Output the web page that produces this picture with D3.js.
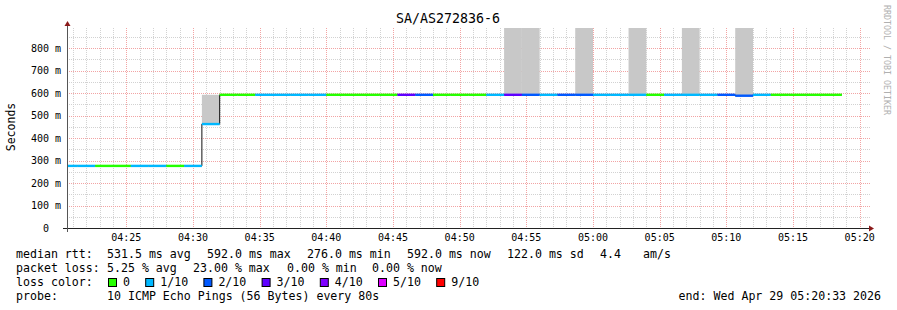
<!DOCTYPE html>
<html><head><meta charset="utf-8">
<script src="https://cdnjs.cloudflare.com/ajax/libs/d3/7.8.5/d3.min.js"></script>
<style>
html,body{margin:0;padding:0;background:#fff;}
svg text{font-family:"DejaVu Sans Mono",monospace;white-space:pre;}
</style></head><body>
<svg id="chart" width="897" height="310"></svg>
<script>
// ---------- data ----------
const title = "SA/AS272836-6";
const yAxisTitle = "Seconds";
const watermark = "RRDTOOL / TOBI OETIKER";
const timeStart = "2026-04-29T04:20:33Z";
const timeEnd = "2026-04-29T05:20:33Z";
const probeStart = "2026-04-29T04:20:00Z";
const probeStepSec = 80;
// median rtt (ms) per 80 s probe round
const medianMs = [276,276,276,276,276,276,276,276,462,592,
                  592,592,592,592,592,592,592,592,592,592,
                  592,592,592,592,592,592,592,592,592,592,
                  592,592,592,592,592,592,592,592,588,592,
                  592,592,592,592];
// lost pings (out of 10) per round
const lossCount = [1,1,0,0,1,1,0,1,1,0,
                   0,1,1,1,1,0,0,0,0,3,
                   2,0,0,0,1,3,2,1,2,2,
                   1,1,1,0,1,1,1,2,2,1,
                   0,0,0,0];
// smoke (ping spread) low/high in ms per round
const smokeLoMs = [276,276,276,276,276,276,276,276,462,592,
                   592,592,592,592,592,592,592,592,592,592,
                   592,592,592,592,592,592,592,592,592,592,
                   592,592,592,592,592,592,592,592,588,592,
                   592,592,592,592];
const smokeHiMs = [276,276,276,276,276,276,276,276,592,592,
                   592,592,592,592,592,592,592,592,592,592,
                   592,592,592,592,592,1000,1000,592,592,1000,
                   592,592,1000,592,592,1000,592,592,1000,592,
                   592,592,592,592];
const lossLevels = [0,1,2,3,4,5,9];
const lossLabels = ["0","1/10","2/10","3/10","4/10","5/10","9/10"];
const lossColors = ["#26ff00","#00b8ff","#0059ff","#5e00ff","#7e00ff","#dd00ff","#ff0000"];
const yTickValues = [0,100,200,300,400,500,600,700,800];
const yTickLabels = ["0  ","100 m","200 m","300 m","400 m","500 m","600 m","700 m","800 m"];
const yMaxMs = 888.9;
const statsRows = [
  ["median rtt:","531.5 ms avg","592.0 ms max","276.0 ms min","592.0 ms now","122.0 ms sd","4.4","am/s"],
  ["packet loss:","5.25 % avg","23.00 % max","0.00 % min","0.00 % now"]
];
const probeText = ["probe:","10 ICMP Echo Pings (56 Bytes) every 80s"];
const endText = "end: Wed Apr 29 05:20:33 2026";

// ---------- layout ----------
const L = 67, R = 867, T = 28, B = 228;
const svg = d3.select("#chart");
const x = d3.scaleUtc().domain([new Date(timeStart), new Date(timeEnd)]).range([L, R]);
const y = d3.scaleLinear().domain([0, yMaxMs]).range([B, T]);
const colorOf = d3.scaleOrdinal().domain(lossLevels).range(lossColors);

const p0 = new Date(probeStart).getTime();
const rounds = medianMs.map((m, i) => ({
  t0: new Date(p0 + i * probeStepSec * 1000),
  t1: new Date(p0 + (i + 1) * probeStepSec * 1000),
  m, loss: lossCount[i], lo: smokeLoMs[i], hi: smokeHiMs[i]
}));
const cx = t => Math.max(L, Math.min(R, x(t)));
const cy = v => Math.max(T, Math.min(B, y(v)));

// grid
const g = svg.append("g");
const minutes = d3.utcMinute.range(x.domain()[0], x.domain()[1]);
minutes.forEach(t => {
  const major = t.getUTCMinutes() % 5 === 0;
  g.append("line").attr("x1", Math.round(x(t)) + 0.5).attr("x2", Math.round(x(t)) + 0.5)
    .attr("y1", T).attr("y2", B)
    .attr("stroke", major ? "#f2a4a4" : "#d2d2d2").attr("stroke-dasharray", "1,1");
});
d3.range(50, yMaxMs, 50).forEach(v => {
  const major = v % 100 === 0;
  g.append("line").attr("x1", L).attr("x2", R + 3)
    .attr("y1", Math.round(y(v)) + 0.5).attr("y2", Math.round(y(v)) + 0.5)
    .attr("stroke", major ? "#f2a4a4" : "#d2d2d2").attr("stroke-dasharray", "1,1");
});

// smoke
svg.append("g").selectAll("rect").data(rounds.filter(d => d.hi > d.lo)).join("rect")
  .attr("x", d => cx(d.t0)).attr("width", d => cx(d.t1) - cx(d.t0))
  .attr("y", d => cy(d.hi)).attr("height", d => cy(d.lo) - cy(d.hi))
  .attr("fill", "#c8c8c8");

// black step line of medians
const stepLine = d3.line().curve(d3.curveStepAfter).x(d => d[0]).y(d => d[1]);
const stepPts = rounds.map(d => [cx(d.t0), y(d.m)]);
stepPts.push([cx(rounds[rounds.length - 1].t1), y(rounds[rounds.length - 1].m)]);
svg.append("path").attr("d", stepLine(stepPts)).attr("fill", "none")
  .attr("stroke", "#111").attr("stroke-width", 1);

// colored median segments
const seg = d3.line().x(d => d[0]).y(d => d[1]);
svg.append("g").selectAll("path").data(rounds).join("path")
  .attr("d", d => seg([[cx(d.t0), y(d.m)], [cx(d.t1), y(d.m)]]))
  .attr("stroke", d => colorOf(d.loss)).attr("stroke-width", 2.4).attr("fill", "none");

// axes
svg.append("line").attr("x1", 63).attr("x2", 869).attr("y1", B + 0.5).attr("y2", B + 0.5)
  .attr("stroke", "#222");
svg.append("line").attr("x1", L + 0.5).attr("x2", L + 0.5).attr("y1", 232).attr("y2", 24)
  .attr("stroke", "#555");
svg.append("path").attr("d", `M869,${B - 2.5} L874,${B + 0.5} L869,${B + 3.5} Z`).attr("fill", "#8b1a1a");
svg.append("path").attr("d", `M${L - 2.5},26 L${L + 0.5},21 L${L + 3.5},26 Z`).attr("fill", "#8b1a1a");

// y tick labels
svg.append("g").selectAll("text").data(yTickValues).join("text")
  .attr("x", 61).attr("y", v => y(v) + 3.5).attr("text-anchor", "end")
  .attr("font-size", 10).attr("fill", "#000").text((v, i) => yTickLabels[i]);

// x tick labels
const xTicks = d3.utcMinute.every(5).range(x.domain()[0], x.domain()[1]);
svg.append("g").selectAll("text").data(xTicks).join("text")
  .attr("x", t => x(t)).attr("y", 241).attr("text-anchor", "middle")
  .attr("font-size", 10).attr("fill", "#000").text(d3.utcFormat("%H:%M"));

// title
svg.append("text").attr("x", 448).attr("y", 23).attr("text-anchor", "middle")
  .attr("font-size", 13.3).attr("fill", "#000").text(title);

// y-axis title
svg.append("text").attr("transform", "translate(15,127) rotate(-90)")
  .attr("text-anchor", "middle").attr("font-size", 11.5).attr("fill", "#000").text(yAxisTitle);

// watermark
svg.append("text").attr("transform", "translate(884,5) rotate(90)")
  .attr("text-anchor", "start").attr("font-size", 8.3).attr("fill", "#b0b0b0").text(watermark);

// stats rows
const fs = 11.6;
const rowX = [[16,107,207,307,407,507,600,643],[16,107,193,287,372]];
const rowY = [258, 272];
statsRows.forEach((row, r) => {
  row.forEach((s, i) => {
    svg.append("text").attr("x", rowX[r][i]).attr("y", rowY[r]).attr("font-size", fs)
      .attr("fill", "#000").text(s);
  });
});

// loss color legend
svg.append("text").attr("x", 16).attr("y", 286).attr("font-size", fs).text("loss color:");
let lx = 108;
lossLabels.forEach((lab, i) => {
  svg.append("rect").attr("x", lx + 0.5).attr("y", 278.5).attr("width", 8).attr("height", 8)
    .attr("fill", lossColors[i]).attr("stroke", "#000").attr("stroke-width", 1);
  svg.append("text").attr("x", lx + 15).attr("y", 286).attr("font-size", fs).text(lab);
  lx += 15 + lab.length * 7 + 15.2;
});

// probe row
svg.append("text").attr("x", 16).attr("y", 300).attr("font-size", fs).text(probeText[0]);
svg.append("text").attr("x", 107).attr("y", 300).attr("font-size", fs).text(probeText[1]);
svg.append("text").attr("x", 881).attr("y", 300).attr("text-anchor", "end").attr("font-size", fs).text(endText);
</script>
</body></html>
